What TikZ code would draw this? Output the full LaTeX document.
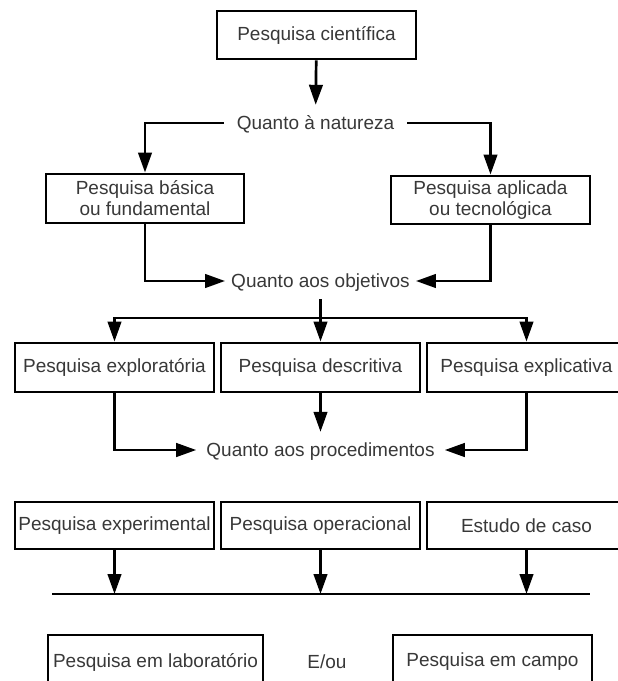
\documentclass[tikz,border=0pt]{standalone}
\usepackage{fontspec}
\setmainfont{Liberation Sans}
\usetikzlibrary{arrows.meta}
\begin{document}
\begin{tikzpicture}[x=1pt,y=-1pt,
  every node/.style={font=\fontsize{19}{21}\selectfont, text=black!78},
  box/.style={draw=black, line width=2.9pt, inner sep=0pt, minimum width=199pt, minimum height=48pt, align=center},
  lbl/.style={inner sep=0pt, inner xsep=10pt, text height=13.6pt, text depth=0pt, minimum height=36pt},
  arr/.style={line width=2.7pt, -{Triangle[length=20pt,width=13.5pt]}},
  ln/.style={line width=2.7pt},
  line join=miter]
\useasboundingbox (0,0) rectangle (618,681);
\clip (0,0) rectangle (618,681);
% level 0
\node[box] (pc) at (316.5,35) {Pesquisa científica};
\node[lbl, inner xsep=13pt] (nat) at (315.5,123) {Quanto à natureza};
% level 1
\node[box, minimum width=198pt, minimum height=49pt] (bas) at (145,198.5) {Pesquisa básica\\ou fundamental};
\node[box] (apl) at (490.5,200) {Pesquisa aplicada\\ou tecnológica};
\node[lbl, inner xsep=6pt] (obj) at (320.5,281) {Quanto aos objetivos};
% level 2
\node[box, minimum height=49pt] (exp) at (114.5,367.5) {Pesquisa exploratória};
\node[box, minimum height=49pt] (des) at (320.5,367.5) {Pesquisa descritiva};
\node[box, minimum height=49pt] (expl) at (526.5,367.5) {Pesquisa explicativa};
\node[lbl, inner xsep=10pt] (proc) at (320.5,450) {Quanto aos procedimentos};
% level 3
\node[box, minimum height=47pt] (pex) at (114.5,525.5) {Pesquisa experimental};
\node[box, minimum height=47pt] (pop) at (320.5,525.5) {Pesquisa operacional};
\node[box, minimum height=47pt] (ec) at (526.5,525.5) {Estudo de caso};
\coordinate (hl) at (52,594);
\coordinate (hr) at (590,594);
% level 4
\node[box, minimum width=215pt, minimum height=54pt] (lab) at (155.5,662) {Pesquisa em laboratório};
\node[lbl] (eou) at (327,662) {E/ou};
\node[box, minimum height=54pt] (cam) at (492.5,662) {Pesquisa em campo};
% connectors
\draw[arr] (pc) -- (nat);
\draw[arr] (nat) -| (bas);
\draw[arr] (nat) -| (apl);
\draw[arr] (bas) |- (obj);
\draw[arr] (apl) |- (obj);
\coordinate (split) at (320.5,318);
\draw[ln] (obj) -- (split);
\draw[arr] (split) -| (exp);
\draw[arr] (split) -- (des);
\draw[arr] (split) -| (expl);
\draw[arr] (exp) |- (proc);
\draw[arr] (des) -- (proc);
\draw[arr] (expl) |- (proc);
\draw[ln] (hl) -- (hr);
\draw[arr] (pex) -- (pex |- hl);
\draw[arr] (pop) -- (pop |- hl);
\draw[arr] (ec) -- (ec |- hl);
\end{tikzpicture}
\end{document}
